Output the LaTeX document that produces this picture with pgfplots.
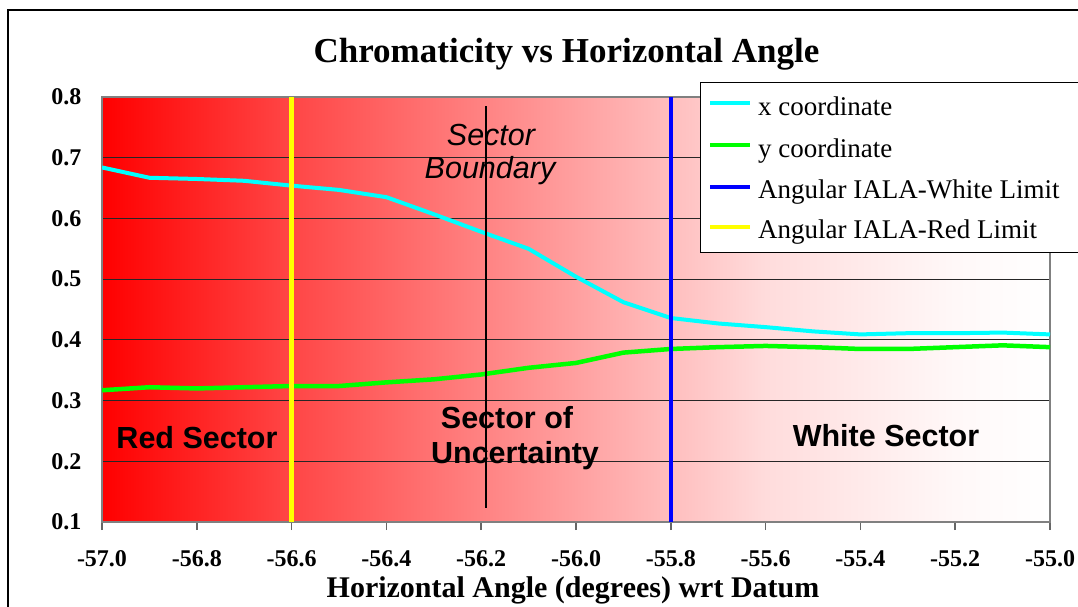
\documentclass[border=0pt]{standalone}
\usepackage{fontspec}
\setmainfont{Liberation Serif}
\newfontfamily\arialfont{Liberation Sans}
\usepackage{pgfplots}
\pgfplotsset{compat=1.18}

\definecolor{xcyan}{RGB}{0,255,255}
\definecolor{ygreen}{RGB}{0,255,0}
\definecolor{limblue}{RGB}{0,0,255}
\definecolor{limyellow}{RGB}{255,255,0}
\definecolor{rwA}{RGB}{255,70,70}
\definecolor{rwB}{RGB}{255,160,160}
\definecolor{rwC}{RGB}{255,220,220}
\definecolor{rwD}{RGB}{255,248,248}
% red on the left fading to white on the right
\pgfdeclarehorizontalshading{redwhite}{100bp}{color(0bp)=(red); color(25bp)=(red);
  color(35bp)=(rwA); color(50bp)=(rwB); color(60bp)=(rwC); color(70bp)=(rwD);
  color(75bp)=(white); color(100bp)=(white)}

\pgfplotstableread{
ang    xc     yc
-57.0  0.684  0.317
-56.9  0.667  0.322
-56.8  0.665  0.320
-56.7  0.662  0.322
-56.6  0.654  0.324
-56.5  0.647  0.324
-56.4  0.635  0.330
-56.3  0.607  0.335
-56.2  0.578  0.343
-56.1  0.550  0.354
-56.0  0.504  0.362
-55.9  0.462  0.379
-55.8  0.436  0.385
-55.7  0.427  0.388
-55.6  0.421  0.390
-55.5  0.414  0.388
-55.4  0.409  0.385
-55.3  0.411  0.385
-55.2  0.411  0.388
-55.1  0.412  0.391
-55.0  0.409  0.388
}\chroma

\begin{document}
\begin{tikzpicture}[x=1pt,y=1pt]
\useasboundingbox (0,0) rectangle (1078,-606);
\draw[line width=1.5pt] (8,-620) -- (8,-10) -- (1090,-10);
\node[anchor=base, font=\bfseries\fontsize{35}{40}\selectfont] at (566.5,-62) {Chromaticity vs Horizontal Angle};

\begin{axis}[
  at={(102pt,-522pt)}, anchor=south west,
  scale only axis, width=948pt, height=425pt,
  xmin=-57, xmax=-55, ymin=0.1, ymax=0.8,
  xtick={-57,-56.8,-56.6,-56.4,-56.2,-56,-55.8,-55.6,-55.4,-55.2,-55},
  ytick={0.1,0.2,0.3,0.4,0.5,0.6,0.7,0.8},
  axis line style={draw=gray, line width=1.5pt},
  ymajorgrids, grid style={black!85, line width=1pt},
  xtick pos=left, xtick align=outside, major tick length=8pt,
  xtick style={draw=gray!80!black, line width=1.5pt},
  ytick style={draw=none},
  /pgf/number format/assume math mode=true,
  tick label style={font=\bfseries\fontsize{24}{28}\selectfont,
    /pgf/number format/.cd, fixed, fixed zerofill, precision=1, /tikz/.cd},
  xticklabel style={yshift=-17pt},
  yticklabel style={xshift=-17pt},
  axis background/.style={shade, shading=redwhite},
]
\addplot[xcyan, line width=4pt] table[x=ang, y=xc] {\chroma};
\addplot[ygreen, line width=4.5pt] table[x=ang, y=yc] {\chroma};
\addplot[black, line width=1.3pt] coordinates {(-56.19,0.785) (-56.19,0.123)};
\addplot[limblue, line width=4.5pt] coordinates {(-55.8,0.1) (-55.8,0.8)};
\addplot[limyellow, line width=4.5pt] coordinates {(-56.6,0.1) (-56.6,0.8)};
\end{axis}

\node[anchor=base, font=\bfseries\fontsize{30}{34}\selectfont] at (573,-597) {Horizontal Angle (degrees) wrt Datum};

\begin{scope}[font=\arialfont\itshape\fontsize{30.5}{34}\selectfont]
\node[anchor=base] at (491,-145) {Sector};
\node[anchor=base] at (490,-178) {Boundary};
\end{scope}
\begin{scope}[font=\arialfont\bfseries\fontsize{30.5}{34}\selectfont]
\node[anchor=base] at (507,-428) {Sector of};
\node[anchor=base] at (515,-463) {Uncertainty};
\node[anchor=base] at (197,-448) {Red Sector};
\node[anchor=base] at (886,-446) {White Sector};
\end{scope}

% legend
\draw[black, line width=1pt, fill=white] (700,-82) rectangle (1110,-252);
\begin{scope}[font=\fontsize{27}{31}\selectfont]
\draw[xcyan, line width=4pt] (710,-103) -- (750,-103);
\node[anchor=base west, inner sep=0pt] at (758,-115.5) {x coordinate};
\draw[ygreen, line width=4pt] (710,-145) -- (750,-145);
\node[anchor=base west, inner sep=0pt] at (758,-157) {y coordinate};
\draw[limblue, line width=4pt] (710,-186.5) -- (750,-186.5);
\node[anchor=base west, inner sep=0pt] at (758,-198) {Angular IALA-White Limit};
\draw[limyellow, line width=4pt] (710,-226.5) -- (750,-226.5);
\node[anchor=base west, inner sep=0pt] at (758,-238) {Angular IALA-Red Limit};
\end{scope}
\end{tikzpicture}
\end{document}
